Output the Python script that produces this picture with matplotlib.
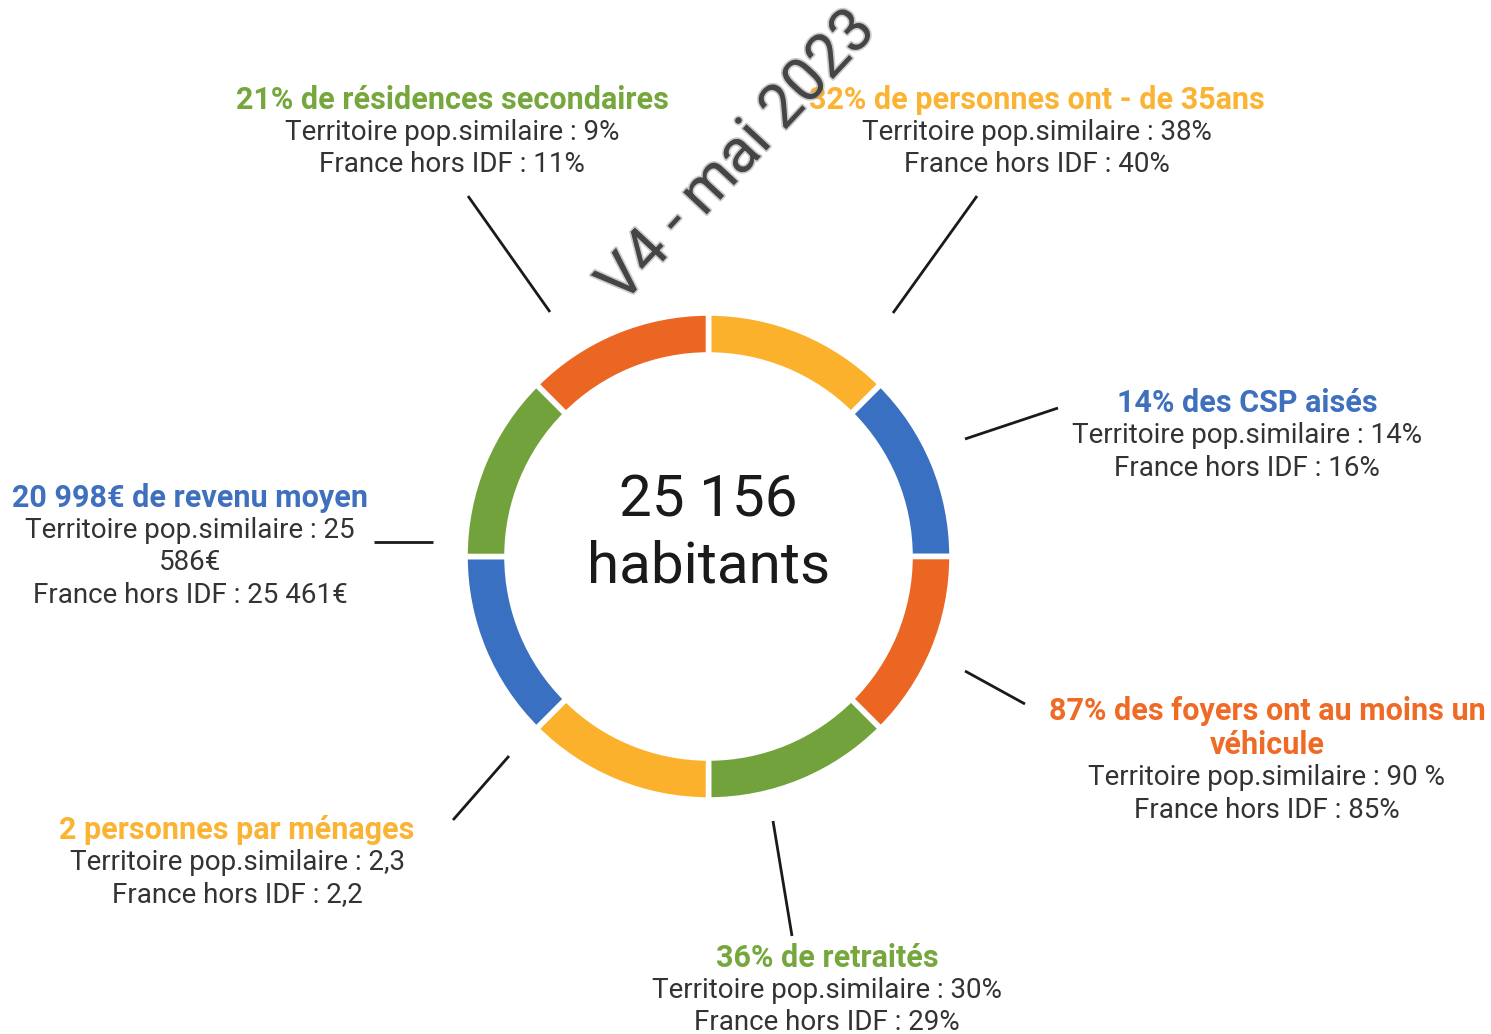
# Donut "25 156 habitants" with 7 call-out labels around it

import matplotlib.pyplot as plt
import matplotlib.patheffects as pe

plt.rcParams['font.family'] = ['Roboto', 'DejaVu Sans']

# ring: 8 equal segments, clockwise from the top
segments = [1, 1, 1, 1, 1, 1, 1, 1]
seg_colors = ['#FBB12B', '#3A70C1', '#EC6623', '#71A23B',
              '#FBB12B', '#3A70C1', '#71A23B', '#EC6623']

population = '25 156'

titles = ['21% de résidences secondaires',
          '32% de personnes ont - de 35ans',
          '14% des CSP aisés',
          '87% des foyers ont au moins un\nvéhicule',
          '36% de retraités',
          '2 personnes par ménages',
          '20 998€ de revenu moyen']
title_colors = ['#76A73C', '#FBB334', '#3E70BE', '#EE6A25',
                '#76A73C', '#FBB334', '#3E70BE']
territoire = ['9%', '38%', '14%', '90 %', '30%', '2,3', '25\n586€']
france = ['11%', '40%', '16%', '85%', '29%', '2,2', '25 461€']

H = 1034  # figure height in px, labels are placed in pixel coords from top

# (centre x, y of first line) for each label block, px from top-left
label_pos = [(452, 100), (1037, 100), (1247, 403), (1267, 711),
             (827, 958), (237, 830), (190, 498)]
# connector segments (x0, y0, x1, y1)
connectors = [(468, 196, 550, 312), (977, 196, 893, 313),
              (1058, 408, 965, 439), (965, 671, 1025, 704),
              (773, 821, 792, 936), (509, 756, 453, 820),
              (374, 542, 433, 542)]

fig = plt.figure(figsize=(14.91, 10.34), dpi=100)
ax = fig.add_axes([0, 0, 1, 1])

cx, cy, R = 708.5, H - 556.5, 243.5
ax.pie(segments, colors=seg_colors, startangle=90, counterclock=False,
       radius=R, center=(cx, cy),
       wedgeprops=dict(width=42, edgecolor='white', linewidth=4))

ax.set_xlim(0, 1491)
ax.set_ylim(0, H)
ax.set_aspect('equal')
ax.axis('off')

ax.text(cx, H - 501, population, ha='center', va='center', fontsize=42,
        color='#1a1a1a')
ax.text(cx, H - 567, 'habitants', ha='center', va='center', fontsize=42,
        color='#1a1a1a')

step = 32.5
for i, (x, y) in enumerate(label_pos):
    lines_t = titles[i].split('\n')
    for t in lines_t:
        ax.text(x, H - y, t, ha='center', va='center', fontsize=22,
                fontweight='bold', color=title_colors[i])
        y += 34
    y -= 34 - step
    body = ('Territoire pop.similaire : ' + territoire[i]).split('\n')
    body.append('France hors IDF : ' + france[i])
    for b in body:
        ax.text(x, H - y, b, ha='center', va='center', fontsize=20,
                color='#333333')
        y += step

for x0, y0, x1, y1 in connectors:
    ax.plot([x0, x1], [H - y0, H - y1], color='#1a1a1a', lw=2,
            solid_capstyle='butt')

# watermark
ax.text(737, H - 157, 'V4 - mai 2023', ha='center', va='center',
        rotation=47, fontsize=44, color='#3c3c3c', alpha=0.9,
        path_effects=[pe.withStroke(linewidth=2.5, foreground='#9a9a9a',
                                    alpha=0.5)])

fig.savefig('out.png', dpi=100, facecolor='white')
